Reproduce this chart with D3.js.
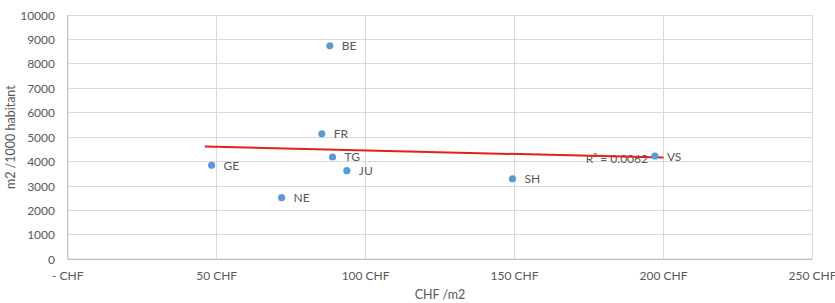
<!DOCTYPE html>
<html><head><meta charset="utf-8">
<script src="https://cdn.jsdelivr.net/npm/d3@7"></script>
<style>body{margin:0;background:#fff;} svg{display:block;} text{font-family:Lato,"Open Sans",sans-serif;}</style>
</head><body>
<svg id="c" width="835" height="303"></svg>
<script>
const cantons = ["BE","FR","TG","JU","GE","NE","SH","VS"];
const priceCHF = [88.0, 85.3, 88.9, 93.7, 48.3, 71.8, 149.3, 197.1];
const m2PerK = [8740, 5140, 4190, 3630, 3850, 2525, 3300, 4230];
const xTicks = [0, 50, 100, 150, 200, 250];
const xTickLabels = ["- CHF", "50 CHF", "100 CHF", "150 CHF", "200 CHF", "250 CHF"];
const yTicks = [0,1000,2000,3000,4000,5000,6000,7000,8000,9000,10000];
const trendRange = [46, 200];
const r2Label = "R² = 0.0062";

const svg = d3.select("#c");
const x = d3.scaleLinear().domain([0,250]).range([67.7,812.5]);
const y = d3.scaleLinear().domain([0,10000]).range([259.4,15]);
const grey = "#595959";

// gridlines
svg.append("g").selectAll("line").data(yTicks.slice(1)).join("line")
  .attr("x1", x(0)).attr("x2", x(250)).attr("y1", d=>y(d)).attr("y2", d=>y(d))
  .attr("stroke","#d9d9d9").attr("stroke-width",1).attr("shape-rendering","crispEdges");
svg.append("g").selectAll("line").data(xTicks.slice(1)).join("line")
  .attr("y1", y(0)).attr("y2", y(10000)).attr("x1", d=>x(d)).attr("x2", d=>x(d))
  .attr("stroke","#d9d9d9").attr("stroke-width",1).attr("shape-rendering","crispEdges");
// axes lines
svg.append("line").attr("x1",x(0)).attr("x2",x(250)).attr("y1",y(0)).attr("y2",y(0))
  .attr("stroke","#bfbfbf").attr("stroke-width",1.2);
svg.append("line").attr("x1",x(0)).attr("x2",x(0)).attr("y1",y(0)).attr("y2",y(10000))
  .attr("stroke","#bfbfbf").attr("stroke-width",1.2);

// tick labels
svg.append("g").selectAll("text").data(yTicks).join("text")
  .attr("x", 55).attr("y", d=>y(d)+4.5).attr("text-anchor","end")
  .attr("font-size",12).attr("fill",grey).text(d=>d);
svg.append("g").selectAll("text").data(xTicks).join("text")
  .attr("x", d=>x(d)).attr("y", 280).attr("text-anchor","middle")
  .attr("font-size",12).attr("fill",grey).text((d,i)=>xTickLabels[i]);

// axis titles
svg.append("text").attr("x",440).attr("y",299).attr("text-anchor","middle")
  .attr("font-size",12.5).attr("fill",grey).text("CHF /m2");
svg.append("text").attr("transform",`translate(15,${(y(0)+y(10000))/2}) rotate(-90)`)
  .attr("text-anchor","middle").attr("font-size",12.5).attr("fill",grey).text("m2 /1000 habitant");

// data
const pts = cantons.map((c,i)=>({c, x:priceCHF[i], y:m2PerK[i]}));
// R2 label
svg.append("text").attr("x",648).attr("y",163).attr("text-anchor","end")
  .attr("font-size",12).attr("fill",grey).text(r2Label);

// regression
const mx = d3.mean(pts,d=>d.x), my = d3.mean(pts,d=>d.y);
const slope = d3.sum(pts,d=>(d.x-mx)*(d.y-my))/d3.sum(pts,d=>(d.x-mx)**2);
const icpt = my - slope*mx;
svg.append("line").attr("x1",x(trendRange[0])).attr("x2",x(trendRange[1]))
  .attr("y1",y(icpt+slope*trendRange[0])).attr("y2",y(icpt+slope*trendRange[1]))
  .attr("stroke","#e3201b").attr("stroke-width",2);

svg.append("g").selectAll("circle").data(pts).join("circle")
  .attr("cx",d=>x(d.x)).attr("cy",d=>y(d.y)).attr("r",3.6).attr("fill","#5b9bd5");
svg.append("g").selectAll("text").data(pts).join("text")
  .attr("x",d=>x(d.x)+12).attr("y",d=>y(d.y)+4.5)
  .attr("font-size",12).attr("fill",grey).text(d=>d.c);
</script>
</body></html>
